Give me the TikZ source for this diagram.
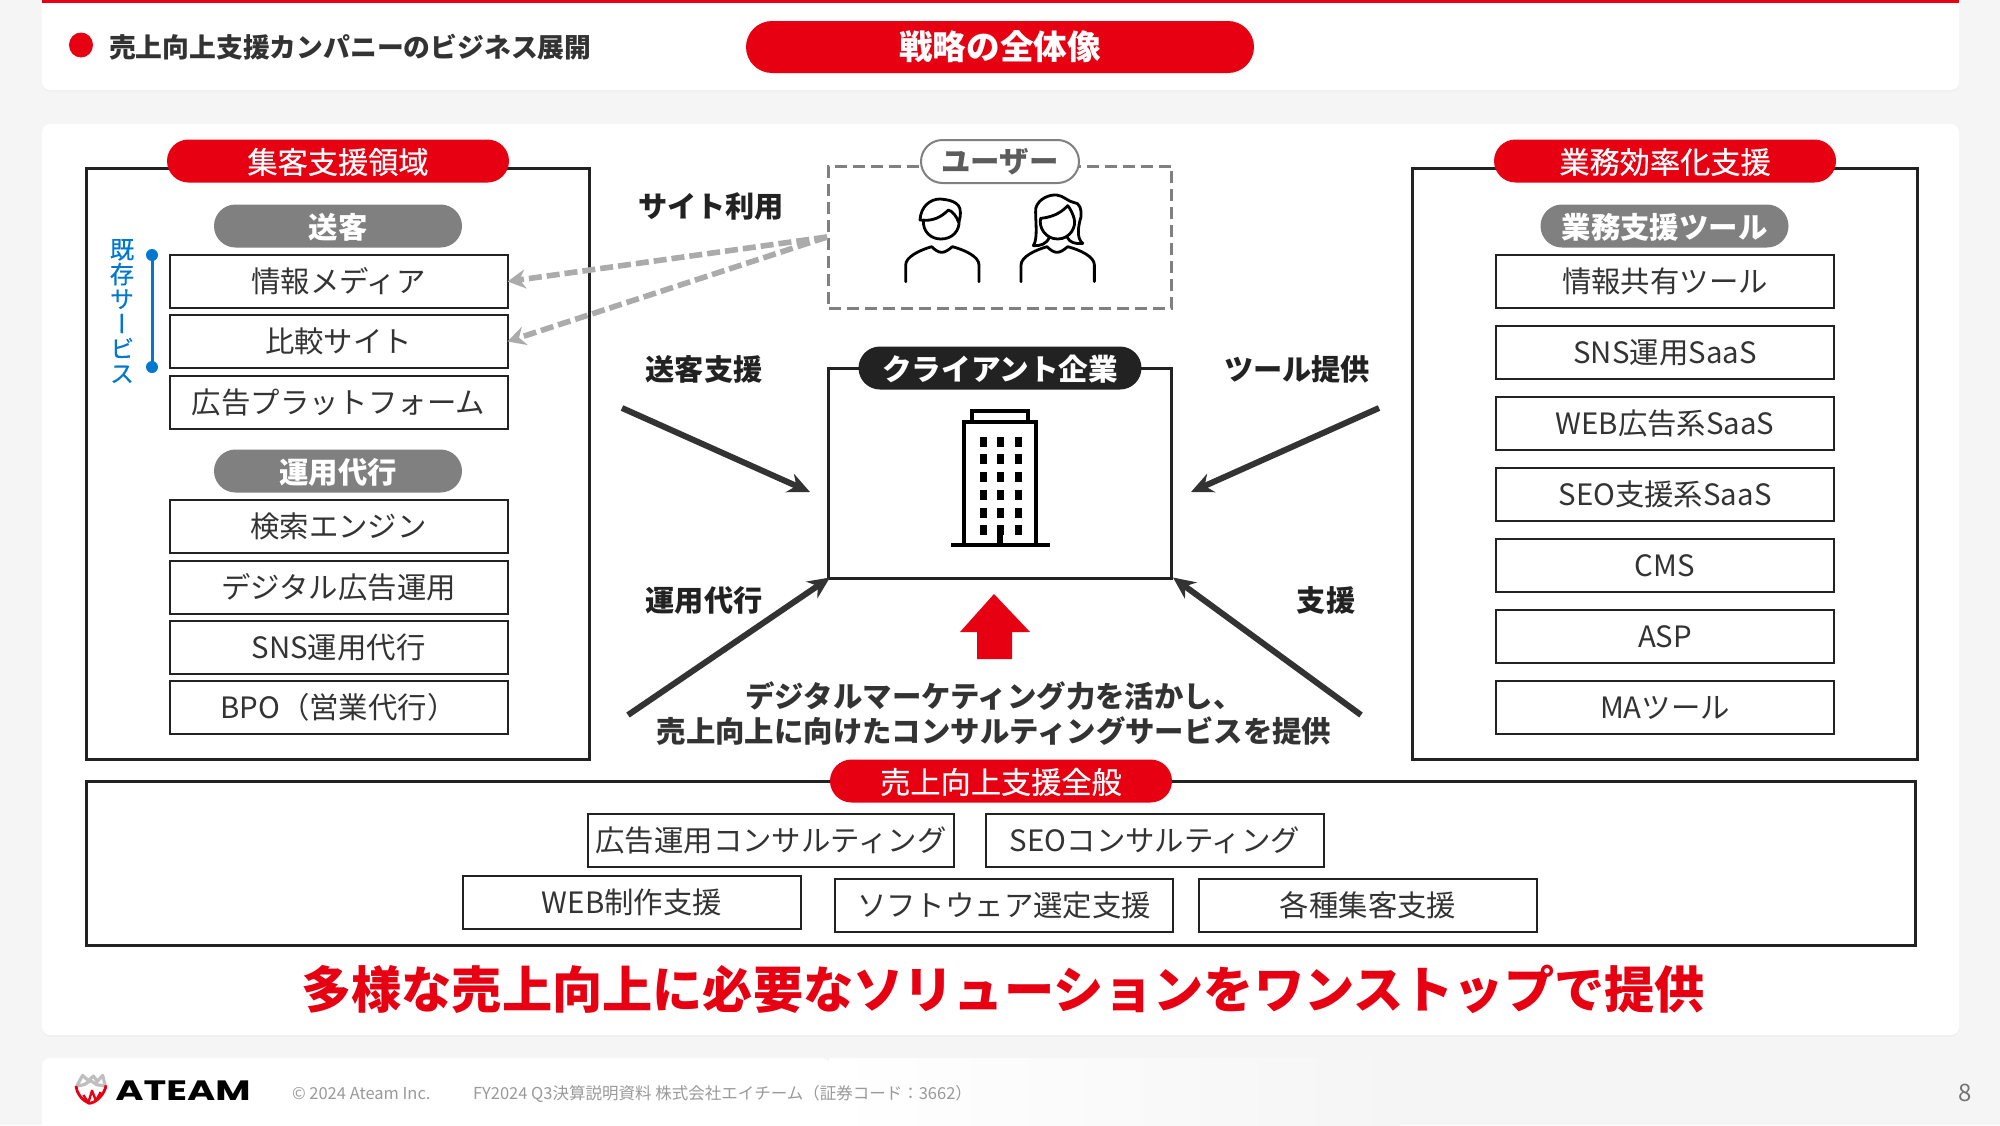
\documentclass[tikz,border=0pt]{standalone}
\usepackage{graphicx}
\usepackage{fontspec}
\setmainfont{Noto Sans CJK JP}
\newfontfamily\vertjp[RawFeature=+vert,FakeBold=0.3]{Noto Sans CJK JP}
\newfontfamily\medjp[FakeBold=0.35]{Noto Sans CJK JP}
\newfontfamily\logofont{Poppins}
\usetikzlibrary{arrows.meta,shapes.misc}
\definecolor{bgc}{HTML}{F5F5F5}
\definecolor{redc}{HTML}{E60012}
\definecolor{inkc}{HTML}{222222}
\definecolor{darkc}{HTML}{333333}
\definecolor{pillgray}{HTML}{808080}
\definecolor{dashgray}{HTML}{ABABAB}
\definecolor{bluec}{HTML}{0078D0}
\definecolor{footc}{HTML}{9A9A9A}
\tikzset{
  tx/.style={font=\fontsize{#1}{#1}\selectfont,text height=#1*0.88pt,text depth=#1*0.12pt,inner sep=0pt,outer sep=0pt},
  txb/.style={font=\bfseries\fontsize{#1}{#1}\selectfont,text height=#1*0.88pt,text depth=#1*0.12pt,inner sep=0pt,outer sep=0pt},
  item/.style={tx=14.7,text=darkc,draw=inkc,line width=1pt,fill=white,minimum width=169pt,minimum height=26.5pt},
  pillbase/.style={rounded rectangle,minimum height=21.5pt,text=white},
  redpill/.style={pillbase,font=\medjp\fontsize{15.1}{15.1}\selectfont,text height=14.2pt,text depth=1.8pt,inner sep=0pt,outer sep=0pt,fill=redc,minimum width=171pt},
  graypill/.style={pillbase,font=\bfseries\fontsize{14.7}{14.7}\selectfont,text height=13.9pt,text depth=1.8pt,inner sep=0pt,outer sep=0pt,fill=pillgray,minimum width=124pt},
  frame/.style={draw=inkc,line width=1.5pt,fill=white},
  lab/.style={txb=14.6,text=inkc},
  bigarrow/.style={draw=darkc,line width=3pt,-{Stealth[length=11pt,width=10pt]}},
  dasharrow/.style={draw=dashgray,line width=2.8pt,dash pattern=on 6.5pt off 2.5pt,-{Stealth[length=9pt,width=9.5pt]}},
  icon/.style={draw=black,line width=1.4pt,line join=round,line cap=round},
  card/.style={fill=white,rounded corners=4pt},
  cardshadow/.style={fill=black!6,rounded corners=4pt},
}
\begin{document}
\begin{tikzpicture}[x=0.5pt,y=-0.5pt]
\useasboundingbox (0,0) rectangle (2000,1125);
\fill[bgc] (0,0) rectangle (2000,1125);
% cards
\fill[cardshadow] (42,-6) rectangle (1959,92);
\fill[card] (42,-6) rectangle (1959,90);
\fill[redc] (42,0) rectangle (1959,3);
\fill[cardshadow] (42,124) rectangle (1959,1037);
\fill[card] (42,124) rectangle (1959,1035);
\fill[white,rounded corners=4pt] (42,1058) rectangle (830,1140);
\shade[left color=white,right color=bgc] (829,1058) rectangle (1400,1125);
% header
\fill[redc] (81,45) circle[x radius=12,y radius=12.5];
\node[txb=13.4,text=darkc,anchor=west] (headline) at (109,47) {売上向上支援カンパニーのビジネス展開};
\node[pillbase,txb=16.8,fill=redc,minimum width=254pt,minimum height=26pt] (strategy) at (1000,47) {戦略の全体像};
% left frame
\node[frame,minimum width=251.5pt,minimum height=295.5pt] (leftframe) at (338,463.5) {};
\node[redpill] (leftpill) at (338,161) {集客支援領域};
\node[graypill] (sendpill) at (338,226) {送客};
\node[item] (media) at (338.5,281.5) {情報メディア};
\node[item] (compare) at (338.5,341.5) {比較サイト};
\node[item] (adplat) at (338.5,402.5) {広告プラットフォーム};
\node[graypill] (opspill) at (338,471) {運用代行};
\node[item] (search) at (338.5,526) {検索エンジン};
\node[item] (digital) at (338.5,587) {デジタル広告運用};
\node[item] (snsops) at (338.5,647.5) {SNS運用代行};
\node[item] (bpo) at (338.5,707.5) {BPO（営業代行）};
% existing services
\node[inner sep=0pt,align=center,text=bluec,font=\vertjp\fontsize{12.2}{12.4}\selectfont] (existing) at (122,311) {既\\存\\サ\\ー\\ビ\\ス};
\fill[bluec] (152,255) circle[radius=6] coordinate (bluetop);
\fill[bluec] (152,367) circle[radius=6] coordinate (bluebot);
\draw[bluec,line width=1.5pt] (bluetop) -- (bluebot);
% right frame
\node[frame,minimum width=252.5pt,minimum height=295.5pt] (rightframe) at (1664.5,463.5) {};
\node[redpill] (rightpill) at (1665,161) {業務効率化支援};
\node[graypill] (toolpill) at (1664.5,226) {業務支援ツール};
\node[item] (share) at (1665,281.5) {情報共有ツール};
\node[item] (snssaas) at (1665,352.5) {SNS運用SaaS};
\node[item] (websaas) at (1665,423.5) {WEB広告系SaaS};
\node[item] (seosaas) at (1665,494.5) {SEO支援系SaaS};
\node[item] (cms) at (1665,565.5) {CMS};
\node[item] (asp) at (1665,636.5) {ASP};
\node[item] (ma) at (1665,707.5) {MAツール};
% users
\node[draw=pillgray,line width=1.5pt,dash pattern=on 6pt off 3pt,minimum width=171.5pt,minimum height=71pt] (users) at (1000,237) {};
\node[pillbase,txb=14.7,fill=white,draw=pillgray,line width=1pt,text=darkc!80,minimum width=79pt] (userpill) at (1000,161.5) {ユーザー};
\begin{scope}[shift={(890,185)},x=0.1667pt,y=-0.1667pt]
  % man
  \draw[icon] (100,105) .. controls (98,140) and (122,162) .. (153,162) .. controls (186,162) and (210,138) .. (207,105);
  \draw[icon] (90,105) .. controls (92,65) and (120,42) .. (150,42) .. controls (172,44) and (212,48) .. (211,82) .. controls (212,95) and (208,105) .. (206,112) .. controls (200,95) and (188,78) .. (175,75) .. controls (155,95) and (130,110) .. (90,105) -- cycle;
  \draw[icon] (47,290) -- (47,240) .. controls (47,215) and (90,195) .. (125,185) .. controls (135,195) and (145,202) .. (155,202) .. controls (165,202) and (175,195) .. (187,185) .. controls (225,195) and (267,215) .. (267,240) -- (267,290);
  % woman
  \draw[icon] (430,182) .. controls (445,160) and (435,100) .. (437,70) .. controls (445,40) and (480,28) .. (500,30) .. controls (520,32) and (535,50) .. (550,52) .. controls (570,52) and (575,75) .. (573,95) .. controls (565,120) and (558,160) .. (578,175) .. controls (555,178) and (540,172) .. (532,158);
  \draw[icon] (430,182) .. controls (450,183) and (470,178) .. (478,156);
  \draw[icon] (452,100) .. controls (445,125) and (465,162) .. (503,162) .. controls (540,162) and (560,125) .. (552,100) .. controls (548,85) and (540,70) .. (533,62) .. controls (520,75) and (500,95) .. (452,100) -- cycle;
  \draw[icon] (393,290) -- (393,240) .. controls (393,215) and (436,195) .. (471,185) .. controls (481,195) and (491,202) .. (501,202) .. controls (511,202) and (521,195) .. (533,185) .. controls (571,195) and (613,215) .. (613,240) -- (613,290);
\end{scope}
% client
\node[frame,fill=none,minimum width=171.5pt,minimum height=105pt] (client) at (1000,473) {};
\node[pillbase,font=\bfseries\fontsize{14.8}{14.8}\selectfont,text height=14pt,text depth=1.8pt,inner sep=0pt,outer sep=0pt,fill=inkc,minimum width=141.5pt] (clientpill) at (1000,368) {クライアント企業};
% building
\draw[black,line width=1.7pt] (972,422) -- (972,411) -- (1028,411) -- (1028,422);
\draw[black,line width=1.7pt] (964,545) -- (964,422) -- (1036,422) -- (1036,545);
\draw[black,line width=2.2pt] (951,545) -- (1050,545);
\foreach \wy in {442,459,477,495,513,530}{
  \foreach \wx in {983,1000,1018}{
    \fill[black] (\wx-3.5,\wy-5) rectangle (\wx+3.5,\wy+5);
  }
}
\fill[black] (997,525) rectangle (1003,545);
% labels
\node[lab] (sitelab) at (711,206) {サイト利用};
\node[lab] (sendlab) at (704,369) {送客支援};
\node[lab] (toollab) at (1297,369) {ツール提供};
\node[lab] (opslab) at (704,600) {運用代行};
\node[lab] (supportlab) at (1326,600) {支援};
% arrows
\draw[dasharrow] (users.west) -- (media.east);
\draw[dasharrow] (users.west) -- (compare.east);
\coordinate (a1) at (622,408); \coordinate (a1e) at (810,492);
\coordinate (a2) at (1379,408); \coordinate (a2e) at (1191,492);
\coordinate (a3) at (628,715); \coordinate (a4) at (1361,715);
\draw[bigarrow] (a1) -- (a1e);
\draw[bigarrow] (a2) -- (a2e);
\draw[bigarrow] (a3) -- ([shift={(3,-2)}]client.south west);
\draw[bigarrow] (a4) -- ([shift={(0,-2)}]client.south east);
% red arrow
\fill[redc] (994,594) -- (1030,632) -- (1012,632) -- (1012,659) -- (977,659) -- (977,632) -- (960,632) -- cycle;
\node[align=center,inner sep=0pt,text=darkc,font=\bfseries\fontsize{14.7}{17.5}\selectfont] (consult) at (994,714) {デジタルマーケティング力を活かし、\\売上向上に向けたコンサルティングサービスを提供};
% bottom frame
\node[frame,minimum width=914.5pt,minimum height=82pt] (bottomframe) at (1000.5,863) {};
\node[redpill] (allpill) at (1001,781) {売上向上支援全般};
\node[item,minimum width=183pt] (adconsult) at (771,840.5) {広告運用コンサルティング};
\node[item] (seoconsult) at (1155,840.5) {SEOコンサルティング};
\node[item] (webmake) at (632,902.5) {WEB制作支援};
\node[item] (softsel) at (1004,905.5) {ソフトウェア選定支援};
\node[item] (acquire) at (1368,905.5) {各種集客支援};
% slogan
\node[txb=25.1,text=redc] (slogan) at (1003,989) {多様な売上向上に必要なソリューションをワンストップで提供};
% footer
\begin{scope}[shift={(60,1060)},x=0.1667pt,y=-0.1667pt]
  \draw[black!25,line width=1.6pt,line join=round] (50,78) -- (68,46) -- (85,62) -- (100,48) -- (112,64) -- (128,46) -- (136,78) -- (110,74) -- (92,62) -- (72,74) -- cycle;
  \draw[redc,line width=1.4pt,line join=round] (48,78) .. controls (50,100) and (65,120) .. (88,130) .. controls (110,128) and (135,100) .. (138,76);
  \draw[redc,line width=1.2pt,line join=round] (70,105) -- (85,128) -- (96,92) -- (108,122) -- (122,96);
\end{scope}
\node[anchor=west,inner sep=0pt,font=\logofont\bfseries\fontsize{14}{14}\selectfont,text=black] (logo) at (115,1091) {\scalebox{1.37}[1]{ATEAM}};
\node[tx=8.25,text=footc,anchor=west] (copyright) at (292,1093) {© 2024 Ateam Inc.};
\node[tx=8.25,text=footc,anchor=west] (fyline) at (473,1093) {FY2024 Q3決算説明資料 株式会社エイチーム（証券コード：3662）};
\node[tx=12,text=black!55] (pageno) at (1965,1092) {8};
\end{tikzpicture}
\end{document}
